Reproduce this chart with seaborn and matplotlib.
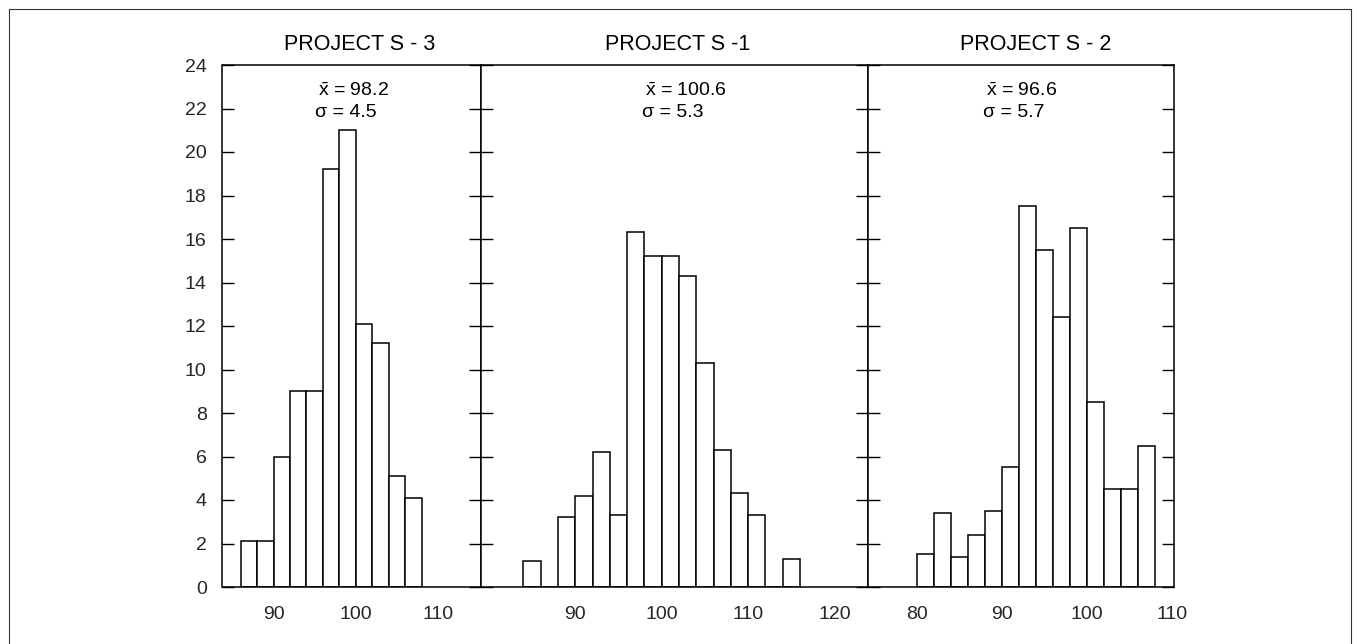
import matplotlib
matplotlib.use('Agg')
import matplotlib.pyplot as plt
import seaborn as sns
from matplotlib.lines import Line2D

# ---------------- data ----------------
titles = ['PROJECT S - 3', 'PROJECT S -1', 'PROJECT S - 2']
means = ['98.2', '100.6', '96.6']
sigmas = ['4.5', '5.3', '5.7']

s3_edges = [86, 88, 90, 92, 94, 96, 98, 100, 102, 104, 106, 108]
s3_centers = [87, 89, 91, 93, 95, 97, 99, 101, 103, 105, 107]
s3_counts = [2.1, 2.1, 6.0, 9.0, 9.0, 19.2, 21.0, 12.1, 11.2, 5.1, 4.1]

s1_edges = [84, 86, 88, 90, 92, 94, 96, 98, 100, 102, 104, 106, 108, 110, 112, 114, 116]
s1_centers = [85, 89, 91, 93, 95, 97, 99, 101, 103, 105, 107, 109, 111, 115]
s1_counts = [1.2, 3.2, 4.2, 6.2, 3.3, 16.3, 15.2, 15.2, 14.3, 10.3, 6.3, 4.3, 3.3, 1.3]

s2_edges = [80, 82, 84, 86, 88, 90, 92, 94, 96, 98, 100, 102, 104, 106, 108]
s2_centers = [81, 83, 85, 87, 89, 91, 93, 95, 97, 99, 101, 103, 105, 107]
s2_counts = [1.5, 3.4, 1.4, 2.4, 3.5, 5.5, 17.5, 15.5, 12.4, 16.5, 8.5, 4.5, 4.5, 6.5]

y_ticks = [0, 2, 4, 6, 8, 10, 12, 14, 16, 18, 20, 22, 24]
x_ticks = [[90, 100, 110], [90, 100, 110, 120], [80, 90, 100, 110]]
x_minor = [[95, 105], [85, 95, 105, 115], [85, 95, 105]]
x_limits = [(83.8, 115.2), (79.1, 123.9), (74.3, 110.2)]

panels = [(s3_edges, s3_centers, s3_counts),
          (s1_edges, s1_centers, s1_counts),
          (s2_edges, s2_centers, s2_counts)]

# ---------------- style ----------------
sns.set_style('white')
plt.rcParams['font.family'] = ['Liberation Sans', 'DejaVu Sans']
plt.rcParams['mathtext.fontset'] = 'custom'
plt.rcParams['mathtext.rm'] = 'Liberation Sans'
plt.rcParams['mathtext.it'] = 'Liberation Sans:italic'

W, H = 1357, 644
fig = plt.figure(figsize=(W / 100, H / 100), dpi=100)
fig.patch.set_facecolor('white')

# pixel layout of the three panels
pan_px = [(222.5, 481.0), (481.0, 868.3), (868.3, 1174.0)]
top_px, bot_px = 65.0, 587.0
title_x = [360, 678, 1036]
stat_x = [318, 645, 986]


def fx(px):
    return px / W


def fy(py):
    return 1 - py / H


for i, ((x0, x1), (edges, centers, counts)) in enumerate(zip(pan_px, panels)):
    ax = fig.add_axes([fx(x0), fy(bot_px), (x1 - x0) / W, (bot_px - top_px) / H])
    sns.histplot(x=centers, weights=counts, bins=edges, ax=ax,
                 color='white', edgecolor='black', linewidth=1.1, alpha=1.0)
    ax.set_xlim(*x_limits[i])
    ax.set_ylim(0, 24)
    ax.set_xlabel('')
    ax.set_ylabel('')
    ax.set_facecolor('white')
    for sp in ax.spines.values():
        sp.set_visible(True)
        sp.set_color('black')
        sp.set_linewidth(1.1)
    ax.set_yticks(y_ticks)
    ax.tick_params(axis='y', which='major', direction='in', length=8.6, width=1.0,
                   color='black', left=True, right=True,
                   labelleft=(i == 0), labelright=False, labelsize=14, pad=11.4)
    ax.set_xticks(x_ticks[i])
    ax.set_xticks(x_minor[i], minor=True)
    ax.tick_params(axis='x', which='major', length=0, labelsize=14, pad=13.5,
                   bottom=True)
    ax.tick_params(axis='x', which='minor', direction='in', length=12, width=0.8,
                   color='black', bottom=True)
    ax.grid(False)

    fig.text(fx(title_x[i]), fy(50), titles[i], ha='center', va='baseline',
             fontsize=15.5, color='black')
    fig.text(fx(stat_x[i]), fy(95.7), r'$\bar{\mathrm{x}}$ = ' + means[i],
             ha='left', va='baseline', fontsize=14, color='black')
    fig.text(fx(stat_x[i] - 3), fy(116.7), '\u03c3 = ' + sigmas[i],
             ha='left', va='baseline', fontsize=14, color='black')

# outer frame of the scanned page
fl, fr, ft = fx(9), fx(1351), fy(9)
for xs, ys in [([fl, fr], [ft, ft]), ([fl, fl], [0, ft]), ([fr, fr], [0, ft])]:
    fig.add_artist(Line2D(xs, ys, transform=fig.transFigure, color='#333333', lw=0.8))

fig.savefig('out.png', dpi=100, facecolor='white')
